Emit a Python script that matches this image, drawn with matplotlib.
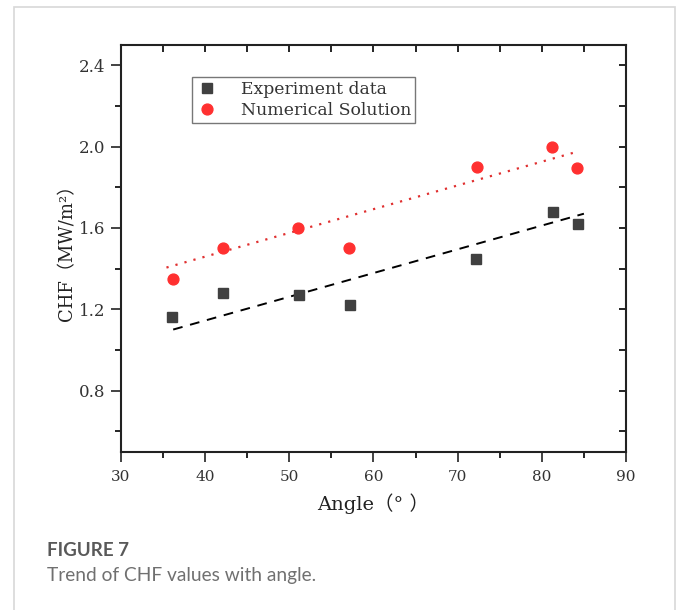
import matplotlib
import matplotlib.pyplot as plt
import numpy as np
from matplotlib.patches import Rectangle
from matplotlib.ticker import MultipleLocator

matplotlib.use("Agg")

# data
angle_exp = [36.1, 42.1, 51.15, 57.2, 72.2, 81.3, 84.3]
chf_exp = [1.16, 1.28, 1.27, 1.22, 1.445, 1.68, 1.62]
angle_num = [36.15, 42.1, 51.0, 57.1, 72.25, 81.15, 84.2]
chf_num = [1.35, 1.50, 1.60, 1.50, 1.90, 2.00, 1.895]

# trend lines (end points)
trend_exp_x = [36.2, 85.0]
trend_exp_y = [1.10, 1.67]
trend_num_x = [35.4, 84.2]
trend_num_y = [1.405, 1.975]

y_ticks = [0.8, 1.2, 1.6, 2.0, 2.4]

SERIF = ["DejaVu Serif", "Noto Sans CJK SC"]

fig = plt.figure(figsize=(6.78, 6.10), dpi=100)
fig.patch.set_facecolor("white")

# light panel border
fig.add_artist(Rectangle((14 / 678, -0.05), 661 / 678, 1 - 6.5 / 610 + 0.05,
                         transform=fig.transFigure, fill=False,
                         edgecolor="#d8d8d8", linewidth=1.2))

ax = fig.add_axes([121 / 678, (610 - 451.5) / 610, 505 / 678, 406.5 / 610])

ax.plot(trend_num_x, trend_num_y, color="#e03030", linestyle=(0, (1, 3.2)),
        linewidth=1.6, zorder=2)
ax.plot(trend_exp_x, trend_exp_y, color="black", linestyle=(0, (5, 4)),
        linewidth=1.4, zorder=2)
ax.plot(angle_exp, chf_exp, linestyle="none", marker="s", markersize=7,
        color="#404040", label="Experiment data", zorder=3)
ax.plot(angle_num, chf_num, linestyle="none", marker="o", markersize=7.8,
        color="#ff3030", label="Numerical Solution", zorder=3)

ax.set_xlim(30, 90)
ax.set_ylim(0.5, 2.5)
ax.xaxis.set_major_locator(MultipleLocator(10))
ax.xaxis.set_minor_locator(MultipleLocator(5))
ax.yaxis.set_minor_locator(MultipleLocator(0.2))
ax.set_yticks(y_ticks)
ax.set_yticklabels([f"{v:.1f}" for v in y_ticks])
ax.tick_params(which="major", direction="out", length=7, width=1.2,
               colors="#222222")
ax.tick_params(axis="x", which="major", pad=6)
ax.tick_params(axis="y", which="major", pad=4)
ax.tick_params(which="minor", direction="out", length=4, width=1.2)
for lbl in ax.get_xticklabels():
    lbl.set_family(SERIF)
    lbl.set_fontsize(11)
    lbl.set_color("#333333")
for lbl in ax.get_yticklabels():
    lbl.set_family(SERIF)
    lbl.set_fontsize(12)
    lbl.set_color("#333333")

for sp in ax.spines.values():
    sp.set_linewidth(1.5)
    sp.set_color("#222222")

# mirrored ticks pointing inward on top and right
top = ax.secondary_xaxis("top")
top.xaxis.set_major_locator(MultipleLocator(10))
top.xaxis.set_minor_locator(MultipleLocator(5))
top.tick_params(which="both", direction="in", length=5, width=1.2, labeltop=False)
right = ax.secondary_yaxis("right")
right.set_yticks(y_ticks)
right.yaxis.set_minor_locator(MultipleLocator(0.2))
right.tick_params(which="both", direction="in", length=5, width=1.2, labelright=False)
for sec in (top, right):
    for sp in sec.spines.values():
        sp.set_visible(False)

ax.set_xlabel("Angle（° ）", family=SERIF, fontsize=14, color="#222222", labelpad=7)
ax.set_ylabel("CHF（MW/m²）", family=SERIF, fontsize=13, color="#222222", labelpad=2)

leg = ax.legend(loc="upper left", bbox_to_anchor=(0.140, 0.921),
                prop={"family": SERIF, "size": 12.4}, frameon=True, fancybox=False,
                borderpad=0.25, handletextpad=1.3, labelspacing=0.2,
                borderaxespad=0, handlelength=1.3)
leg.get_frame().set_edgecolor("#555555")
leg.get_frame().set_linewidth(1.0)
for t in leg.get_texts():
    t.set_color("#333333")

fig.text(47 / 678, 1 - 550 / 610, "FIGURE 7", fontsize=13.5, fontweight="bold",
         family="Lato", color="#595959", va="center", ha="left")
fig.text(47 / 678, 1 - 575 / 610, "Trend of CHF values with angle.", fontsize=13.8,
         family="Lato", color="#707070", va="center", ha="left")

fig.savefig("out.png", dpi=100)
